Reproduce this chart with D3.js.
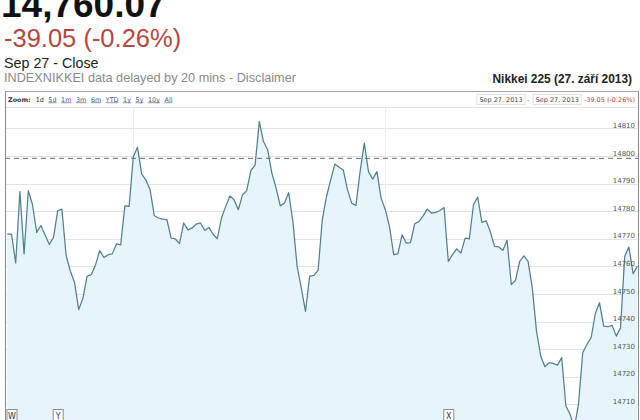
<!DOCTYPE html>
<html><head><meta charset="utf-8">
<script src="https://cdn.jsdelivr.net/npm/d3@7"></script>
<style>body{margin:0;background:#fff;overflow:hidden} svg{display:block}</style>
</head><body>
<svg id="c" width="640" height="420"></svg>
<script>
// ---- data ----
const lastPrice = "14,760.07";
const changeText = "-39.05 (-0.26%)";
const sessionText = "Sep 27 - Close";
const noteText = "INDEXNIKKEI data delayed by 20 mins - Disclaimer";
const chartTitle = "Nikkei 225 (27. září 2013)";
const zoomLabels = ["1d","5d","1m","3m","6m","YTD","1y","5y","10y","All"];
const rangeFrom = "Sep 27. 2013";
const rangeTo = "Sep 27. 2013";
const prevClose = 14799.12;
const yTicks = [14710,14720,14730,14740,14750,14760,14770,14780,14790,14800,14810];
const vGridIdx = [30, 90];
const flagIdx = [1, 12, 105];
const flagText = ["W","Y","X"];
const values = [
14771.7,14771.7,14761.2,14787.1,14764.5,14787.4,14782.3,14772.3,14774.8,14771.3,
14767.9,14770.5,14780.1,14780.7,14764.0,14758.3,14754.2,14744.3,14748.4,14756.4,
14757.0,14760.5,14765.7,14763.2,14764.2,14764.5,14768.1,14767.8,14781.9,14781.7,
14799.7,14803.1,14793.4,14791.3,14787.7,14778.3,14777.5,14777.1,14776.9,14770.2,
14769.9,14768.2,14775.7,14773.2,14773.9,14775.3,14775.7,14773.0,14774.1,14771.6,
14770.0,14777.5,14781.7,14785.5,14784.1,14780.5,14785.9,14787.4,14794.7,14796.7,
14812.4,14805.2,14802.2,14793.7,14788.3,14781.9,14782.9,14786.7,14776.2,14760.0,
14752.2,14743.7,14756.4,14756.7,14758.5,14776.9,14785.3,14791.3,14797.1,14795.9,
14794.9,14787.7,14782.9,14782.0,14794.3,14804.6,14794.3,14791.6,14794.3,14784.7,
14780.5,14774.4,14764.2,14764.5,14771.4,14768.4,14768.6,14775.4,14776.2,14778.3,
14780.7,14779.3,14779.5,14780.2,14781.3,14761.8,14764.2,14766.3,14764.8,14770.2,
14769.9,14782.3,14785.1,14775.9,14776.5,14772.6,14767.2,14767.0,14765.8,14769.4,
14753.4,14754.9,14761.8,14763.8,14761.8,14752.2,14736.5,14727.5,14723.6,14725.1,
14724.8,14724.2,14726.9,14709.4,14706.4,14701.5,14710.0,14728.7,14731.7,14734.1,
14742.9,14746.8,14738.3,14738.1,14738.6,14734.7,14737.7,14763.6,14767.0,14757.3,
14760.07];

// ---- drawing ----
const svg = d3.select("#c");
const W = 640, H = 420;
const box = {left:5, right:638.5, top:91, bar:107};

// header texts
svg.append("text").attr("x",1).attr("y",16.5)
  .attr("font-family","Liberation Sans, Arial, sans-serif").attr("font-weight","bold")
  .attr("font-size",37).attr("fill","#111").text(lastPrice);
svg.append("text").attr("x",4).attr("y",47)
  .attr("font-family","Liberation Sans, Arial, sans-serif")
  .attr("font-size",25.5).attr("fill","#b5483b").text(changeText);
svg.append("text").attr("x",4).attr("y",67.5)
  .attr("font-family","Liberation Sans, Arial, sans-serif")
  .attr("font-size",14.3).attr("fill","#222").text(sessionText);
svg.append("text").attr("x",4).attr("y",82)
  .attr("font-family","Liberation Sans, Arial, sans-serif")
  .attr("font-size",12.7).attr("fill","#8a8a8a").text(noteText);
svg.append("text").attr("x",632).attr("y",82.5).attr("text-anchor","end")
  .attr("font-family","Liberation Sans, Arial, sans-serif").attr("font-weight","bold")
  .attr("font-size",11.9).attr("fill","#222").text(chartTitle);

// scales
const x = d3.scaleLinear().domain([0, values.length-1]).range([7.3, 637.3]);
const y = d3.scaleLinear().domain([14710, 14810]).range([404.3, 128.3]);

// clip for plot
svg.append("clipPath").attr("id","pc").append("rect")
  .attr("x",box.left).attr("y",box.bar).attr("width",box.right-box.left).attr("height",H-box.bar);
const plot = svg.append("g").attr("clip-path","url(#pc)");

// horizontal grid
plot.selectAll("line.hg").data(yTicks).join("line").attr("class","hg")
  .attr("x1",box.left).attr("x2",box.right)
  .attr("y1",d=>Math.round(y(d))+0.5).attr("y2",d=>Math.round(y(d))+0.5)
  .attr("stroke","#e2e2e2").attr("stroke-width",1);
// vertical grid
plot.selectAll("line.vg").data(vGridIdx).join("line").attr("class","vg")
  .attr("x1",d=>Math.round(x(d))+0.5).attr("x2",d=>Math.round(x(d))+0.5)
  .attr("y1",box.bar).attr("y2",H)
  .attr("stroke","#ececec").attr("stroke-width",1);

// area + line
const area = d3.area().x((d,i)=>x(i)).y0(H+20).y1(d=>y(d));
const line = d3.line().x((d,i)=>x(i)).y(d=>y(d));
plot.append("path").datum(values).attr("d",area).attr("fill","#e6f4fb");
plot.append("path").datum(values).attr("d",line).attr("fill","none")
  .attr("stroke","#52808f").attr("stroke-width",1.25).attr("stroke-linejoin","round");

// previous close dashed line
plot.append("line").attr("x1",box.left).attr("x2",box.right)
  .attr("y1",y(prevClose)).attr("y2",y(prevClose))
  .attr("stroke","#6a6a6a").attr("stroke-width",1).attr("stroke-dasharray","5,4");

// y axis labels (inside right)
const yAxis = d3.axisLeft(y).tickValues(yTicks).tickSize(0).tickFormat(d3.format("d"));
const ya = svg.append("g").attr("transform","translate(635,-3)").call(yAxis);
ya.select(".domain").remove();
ya.selectAll("text").attr("x",0).attr("dy","0.32em")
  .attr("font-family","DejaVu Sans, Verdana, sans-serif").attr("font-size",7).attr("fill","#555");

// flags
const fg = plot.selectAll("g.flag").data(flagIdx).join("g").attr("class","flag")
  .attr("transform",d=>`translate(${x(d)+0.5},0)`);
fg.append("rect").attr("x",-5).attr("y",409.5).attr("width",10).attr("height",13)
  .attr("fill","#fff").attr("stroke","#8c8c8c").attr("stroke-width",1);
fg.append("text").attr("x",0).attr("y",419).attr("text-anchor","middle")
  .attr("font-family","DejaVu Sans, Verdana, sans-serif").attr("font-size",8).attr("fill","#333")
  .text((d,i)=>flagText[i]);

// chart box borders
svg.append("line").attr("x1",box.left).attr("x2",box.right).attr("y1",box.top+0.5).attr("y2",box.top+0.5)
  .attr("stroke","#a8a8a8");
svg.append("line").attr("x1",box.left).attr("x2",box.right).attr("y1",box.bar+0.5).attr("y2",box.bar+0.5)
  .attr("stroke","#e4e4e4");
svg.append("line").attr("x1",box.left+0.5).attr("x2",box.left+0.5).attr("y1",box.top).attr("y2",H)
  .attr("stroke","#8a8a8a");
svg.append("line").attr("x1",box.right).attr("x2",box.right).attr("y1",box.top).attr("y2",H)
  .attr("stroke","#8a8a8a");

// zoom bar
const zf = "DejaVu Sans, Verdana, sans-serif";
const zb = svg.append("g");
let zx = 8;
const zt = zb.append("text").attr("x",zx).attr("y",101.5).attr("font-family",zf).attr("font-size",6.4)
  .attr("font-weight","bold").attr("fill","#333").text("Zoom:");
zx += zt.node().getComputedTextLength() + 5;
zoomLabels.forEach((lab,i)=>{
  const t = zb.append("text").attr("x",zx).attr("y",101.5).attr("font-family",zf).attr("font-size",6.4)
    .attr("fill", i===0 ? "#333" : "#4a5a8a")
    .attr("text-decoration", i===0 ? "none" : "underline").text(lab);
  zx += t.node().getComputedTextLength() + 4.6;
});

// range inputs (right)
const rg = svg.append("g");
function inputBox(xr, txt){
  const t = rg.append("text").attr("x",xr).attr("y",101.5).attr("font-family",zf).attr("font-size",6.5)
    .attr("fill","#444").text(txt);
  const w = t.node().getComputedTextLength();
  rg.insert("rect","text").attr("x",xr-2.5).attr("y",94.5).attr("width",w+5).attr("height",10)
    .attr("fill","#fff").attr("stroke","#e2e2e2");
  return w;
}
const ct = rg.append("text").attr("x",635).attr("y",101.5).attr("text-anchor","end")
  .attr("font-family",zf).attr("font-size",6.5).attr("fill","#b5483b").text(changeText);
const cw = ct.node().getComputedTextLength();
let rx = 635 - cw - 5;
const tmp = rg.append("text").attr("font-family",zf).attr("font-size",6.5).text(rangeTo);
const rw = tmp.node().getComputedTextLength(); tmp.remove();
inputBox(rx - rw, rangeTo);
rg.append("text").attr("x",rx - rw - 7.5).attr("y",101.5).attr("text-anchor","middle")
  .attr("font-family",zf).attr("font-size",6.5).attr("fill","#444").text("-");
inputBox(rx - rw - 13 - rw, rangeFrom);
</script>
</body></html>
